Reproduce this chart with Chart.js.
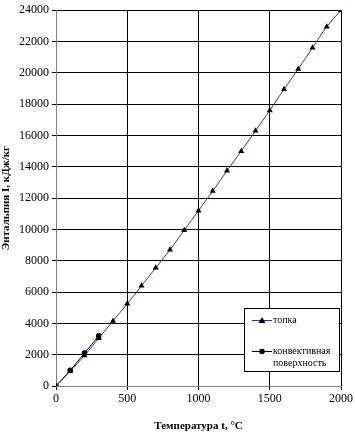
<!DOCTYPE html>
<html>
<head>
<meta charset="utf-8">
<script src="https://cdn.jsdelivr.net/npm/chart.js@4"></script>
<style>
  body { margin: 0; background: #fff; }
  #wrap { width: 355px; height: 433px; }
</style>
</head>
<body>
<div id="wrap"><canvas id="enthalpyChart" width="355" height="433"></canvas></div>
<script>
const furnaceTemps = [0, 100, 200, 300, 400, 500, 600, 700, 800, 900, 1000, 1100, 1200, 1300, 1400, 1500, 1600, 1700, 1800, 1900, 2000];
const furnaceEnthalpy = [0, 950, 1950, 3050, 4150, 5250, 6400, 7550, 8700, 9950, 11200, 12450, 13750, 15000, 16300, 17600, 18950, 20250, 21600, 22950, 24000];
const convTemps = [0, 100, 200, 300];
const convEnthalpy = [0, 1000, 2100, 3200];
const legendLabels = ['топка', 'конвективная', 'поверхность'];

const serif = '"Liberation Serif", "Times New Roman", serif';

const legendBox = {
    id: 'legendBox',
    afterDraw(chart) {
        const ctx = chart.ctx;
        const x = 244, y = 308, w = 95, h = 63;
        ctx.save();
        ctx.fillStyle = '#fff';
        ctx.fillRect(x, y, w, h);
        ctx.strokeStyle = '#000';
        ctx.lineWidth = 1;
        ctx.strokeRect(x + 0.5, y + 0.5, w, h);
        // топка
        ctx.strokeStyle = '#333399';
        ctx.beginPath(); ctx.moveTo(252, 320.5); ctx.lineTo(272, 320.5); ctx.stroke();
        ctx.fillStyle = '#000';
        ctx.beginPath(); ctx.moveTo(262, 317); ctx.lineTo(265.5, 323); ctx.lineTo(258.5, 323); ctx.closePath(); ctx.fill();
        // конвективная поверхность
        ctx.strokeStyle = '#000';
        ctx.beginPath(); ctx.moveTo(252, 351.5); ctx.lineTo(272, 351.5); ctx.stroke();
        ctx.beginPath(); ctx.arc(262, 351.5, 2.8, 0, Math.PI * 2); ctx.fill();
        ctx.font = '10px ' + serif;
        ctx.textBaseline = 'middle';
        ctx.fillText(legendLabels[0], 273, 320);
        ctx.fillText(legendLabels[1], 273, 351);
        ctx.fillText(legendLabels[2], 273, 363);
        ctx.restore();
    }
};

const ctx = document.getElementById('enthalpyChart').getContext('2d');
new Chart(ctx, {
    type: 'scatter',
    data: {
        datasets: [{
            label: legendLabels[0],
            data: furnaceTemps.map((t, i) => ({ x: t, y: furnaceEnthalpy[i] })),
            showLine: true,
            borderColor: '#333399',
            borderWidth: 1,
            tension: 0.3,
            pointStyle: 'triangle',
            pointRadius: 3.5,
            pointBackgroundColor: '#000',
            pointBorderColor: '#000',
            pointBorderWidth: 0
        }, {
            label: legendLabels[1] + ' ' + legendLabels[2],
            data: convTemps.map((t, i) => ({ x: t, y: convEnthalpy[i] })),
            showLine: true,
            borderColor: '#000',
            borderWidth: 1,
            tension: 0.3,
            pointStyle: 'circle',
            pointRadius: 2.8,
            pointBackgroundColor: '#000',
            pointBorderColor: '#000',
            pointBorderWidth: 0
        }]
    },
    options: {
        responsive: false,
        animation: false,
        layout: { padding: { left: 0, right: 14, top: 10, bottom: 0 } },
        scales: {
            x: {
                type: 'linear',
                min: 0, max: 2000,
                ticks: { stepSize: 500, color: '#000', font: { family: serif, size: 12 }, padding: 2, maxRotation: 0, callback: v => String(v) },
                grid: { color: '#000', lineWidth: 1, tickLength: 4, tickColor: '#000' },
                border: { color: '#808080', width: 1 },
                title: { display: true, text: 'Температура t, °C', color: '#000', font: { family: serif, size: 11, weight: 'bold' }, padding: { top: 8, bottom: 0 } },
                afterFit(scale) { scale.height = 47; }
            },
            y: {
                min: 0, max: 24000,
                ticks: { stepSize: 2000, color: '#000', font: { family: serif, size: 12 }, padding: 3, callback: v => String(v) },
                grid: { color: '#000', lineWidth: 1, tickLength: 4, tickColor: '#000' },
                border: { color: '#808080', width: 1 },
                title: { display: true, text: 'Энтальпия I, кДж/кг', color: '#000', font: { family: serif, size: 11, weight: 'bold' }, padding: { top: 0, bottom: 2 } },
                afterFit(scale) { scale.width = 56; }
            }
        },
        plugins: {
            legend: { display: false },
            tooltip: { enabled: false }
        }
    },
    plugins: [legendBox]
});
</script>
</body>
</html>
